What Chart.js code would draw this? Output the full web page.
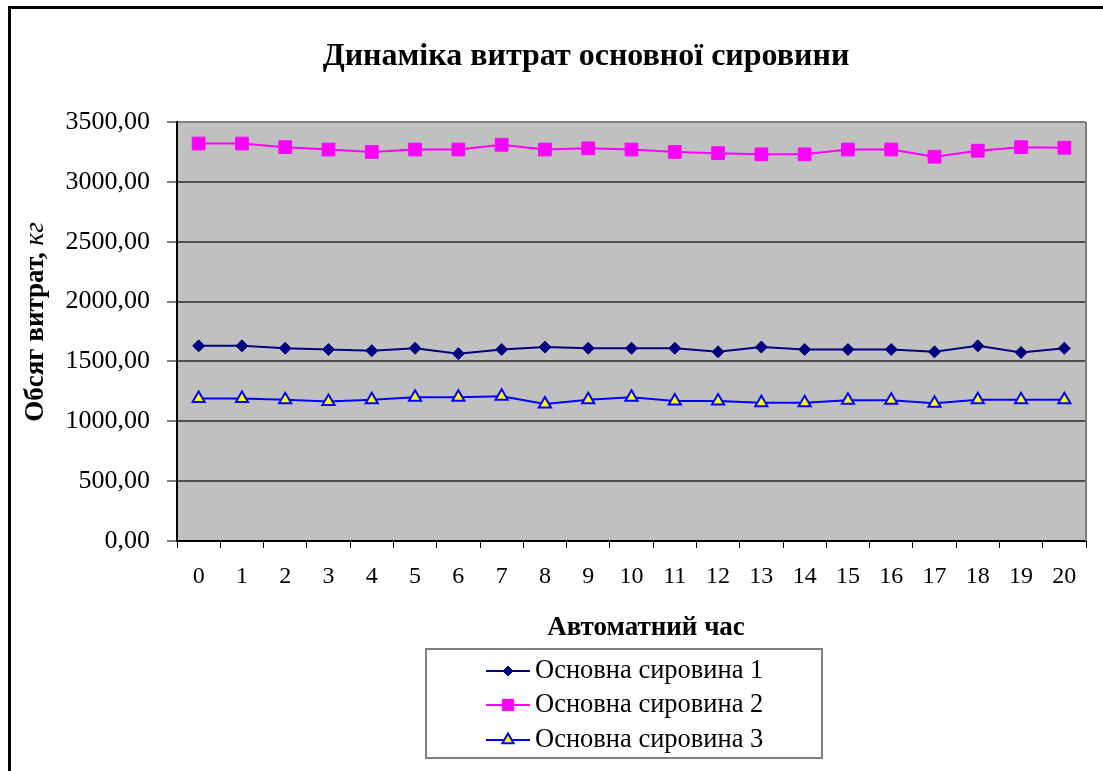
<!DOCTYPE html>
<html lang="uk">
<head>
<meta charset="utf-8">
<title>Динаміка витрат основної сировини</title>
<script src="https://cdn.jsdelivr.net/npm/chart.js@4/dist/chart.umd.min.js"></script>
<style>
  html, body { margin: 0; padding: 0; background: #ffffff; }
  #wrap { position: relative; width: 1103px; height: 771px; }
  canvas { display: block; }
</style>
</head>
<body>
<div id="wrap"><canvas id="chart" width="1103" height="771"></canvas></div>
<script>
// Automatic time steps
const hours = ['0','1','2','3','4','5','6','7','8','9','10','11','12','13','14','15','16','17','18','19','20'];

// Consumption of main raw materials, kg
const material1 = [1630,1630,1610,1600,1590,1610,1565,1600,1620,1610,1610,1610,1580,1620,1600,1600,1600,1580,1630,1575,1610];
const material2 = [3320,3320,3290,3270,3250,3270,3270,3310,3270,3280,3270,3250,3240,3230,3230,3270,3270,3210,3260,3290,3285];
const material3 = [1190,1190,1180,1165,1180,1200,1200,1210,1145,1180,1200,1170,1170,1155,1155,1175,1175,1150,1180,1180,1180];

const seriesNames = ['Основна сировина 1', 'Основна сировина 2', 'Основна сировина 3'];
const chartTitle = 'Динаміка витрат основної сировини';
const xTitle = 'Автоматний час';
const yTitleMain = 'Обсяг витрат, ';
const yTitleUnit = 'кг';

const yMin = 0, yMax = 3500, yStep = 500;

const SERIF = "'Liberation Serif', 'Times New Roman', serif";
const PAGE_H = 771;
const PLOT_LEFT = 177;
const PLOT_BOTTOM = 541;

// Grey plot background, right plot border and page frame
const plotBackground = {
  id: 'plotBackground',
  beforeDraw(chart) {
    const { ctx, chartArea: a } = chart;
    ctx.save();
    ctx.fillStyle = '#c0c0c0';
    ctx.fillRect(a.left, a.top, a.right - a.left, a.bottom - a.top);
    ctx.restore();
  },
  afterDraw(chart) {
    const { ctx, chartArea: a } = chart;
    ctx.save();
    ctx.strokeStyle = '#808080';
    ctx.lineWidth = 2;
    ctx.beginPath();
    ctx.moveTo(a.right, a.top);
    ctx.lineTo(a.right, a.bottom);
    ctx.stroke();
    // frame around the whole figure
    ctx.strokeStyle = '#000000';
    ctx.lineWidth = 3;
    ctx.beginPath();
    ctx.moveTo(9.5, chart.height + 5);
    ctx.lineTo(9.5, 7.5);
    ctx.lineTo(chart.width + 5, 7.5);
    ctx.stroke();
    ctx.restore();
  }
};

// Title, axis titles and boxed legend
const captions = {
  id: 'captions',
  afterDraw(chart) {
    const { ctx } = chart;
    ctx.save();
    ctx.fillStyle = '#000000';
    ctx.textBaseline = 'middle';

    // chart title
    ctx.textAlign = 'center';
    ctx.font = 'bold 32px ' + SERIF;
    ctx.fillText(chartTitle, 586, 57);

    // x axis title
    ctx.font = 'bold 27px ' + SERIF;
    ctx.fillText(xTitle, 646, 628);

    // y axis title: bold text with italic unit
    const boldFont = 'bold 27px ' + SERIF;
    const italFont = 'italic 27px ' + SERIF;
    ctx.font = boldFont;
    const w1 = ctx.measureText(yTitleMain).width;
    ctx.font = italFont;
    const w2 = ctx.measureText(yTitleUnit).width;
    const total = w1 + w2;
    ctx.translate(36, 322);
    ctx.rotate(-Math.PI / 2);
    ctx.textAlign = 'left';
    ctx.font = boldFont;
    ctx.fillText(yTitleMain, -total / 2, 0);
    ctx.font = italFont;
    ctx.fillText(yTitleUnit, -total / 2 + w1, 0);
    ctx.setTransform(1, 0, 0, 1, 0, 0);

    // legend box
    const box = { left: 426, top: 649, right: 822, bottom: 758 };
    ctx.strokeStyle = '#808080';
    ctx.lineWidth = 2;
    ctx.strokeRect(box.left, box.top, box.right - box.left, box.bottom - box.top);

    const rowY = [671, 705, 740];
    chart.data.datasets.forEach((ds, i) => {
      const y = rowY[i];
      ctx.strokeStyle = ds.borderColor;
      ctx.lineWidth = ds.borderWidth;
      ctx.beginPath();
      ctx.moveTo(486, y);
      ctx.lineTo(530, y);
      ctx.stroke();
      ctx.fillStyle = ds.pointBackgroundColor;
      ctx.strokeStyle = ds.pointBorderColor;
      ctx.lineWidth = ds.pointBorderWidth;
      Chart.helpers.drawPoint(ctx, {
        pointStyle: ds.pointStyle,
        radius: ds.legendRadius,
        rotation: 0,
        borderWidth: ds.pointBorderWidth
      }, 508, y);
      ctx.fillStyle = '#000000';
      ctx.font = '26.5px ' + SERIF;
      ctx.textAlign = 'left';
      ctx.textBaseline = 'middle';
      ctx.fillText(ds.label, 535, y);
    });
    ctx.restore();
  }
};

const ctx = document.getElementById('chart').getContext('2d');
new Chart(ctx, {
  type: 'line',
  data: {
    labels: hours,
    datasets: [
      {
        label: seriesNames[0],
        data: material1,
        borderColor: '#000080',
        borderWidth: 2,
        pointStyle: 'rectRot',
        pointRadius: 6,
        legendRadius: 5,
        pointBackgroundColor: '#000080',
        pointBorderColor: '#000080',
        pointBorderWidth: 1,
        tension: 0
      },
      {
        label: seriesNames[1],
        data: material2,
        borderColor: '#ff00ff',
        borderWidth: 2,
        pointStyle: 'rect',
        pointRadius: 9,
        legendRadius: 8,
        pointBackgroundColor: '#ff00ff',
        pointBorderColor: '#ff00ff',
        pointBorderWidth: 1,
        tension: 0
      },
      {
        label: seriesNames[2],
        data: material3,
        borderColor: '#0000ff',
        borderWidth: 2,
        pointStyle: 'triangle',
        pointRadius: 7,
        legendRadius: 6.5,
        pointBackgroundColor: '#ffff00',
        pointBorderColor: '#0000ff',
        pointBorderWidth: 2,
        tension: 0
      }
    ]
  },
  options: {
    responsive: false,
    animation: false,
    devicePixelRatio: 1,
    layout: { padding: { left: 0, right: 17, top: 122, bottom: 0 } },
    plugins: {
      legend: { display: false },
      title: { display: false },
      tooltip: { enabled: false }
    },
    scales: {
      x: {
        type: 'category',
        offset: true,
        afterFit(scale) { scale.height = PAGE_H - PLOT_BOTTOM; },
        grid: {
          display: true,
          offset: true,
          drawOnChartArea: false,
          drawTicks: true,
          tickLength: 7,
          tickColor: '#000000',
          tickWidth: 1
        },
        border: { display: true, color: '#000000', width: 2 },
        ticks: {
          color: '#000000',
          font: { family: SERIF, size: 24 },
          padding: 14,
          maxRotation: 0,
          autoSkip: false
        }
      },
      y: {
        min: yMin,
        max: yMax,
        afterFit(scale) { scale.width = PLOT_LEFT; },
        grid: {
          color(c) { return c.tick && c.tick.value === yMax ? '#808080' : '#505050'; },
          lineWidth: 2,
          drawTicks: true,
          tickLength: 10,
          tickColor: '#000000',
          tickWidth: 1
        },
        border: { display: true, color: '#000000', width: 2 },
        ticks: {
          stepSize: yStep,
          color: '#000000',
          font: { family: SERIF, size: 26 },
          padding: 17,
          callback(v) { return Number(v).toFixed(2).replace('.', ','); }
        }
      }
    }
  },
  plugins: [plotBackground, captions]
});
</script>
</body>
</html>
